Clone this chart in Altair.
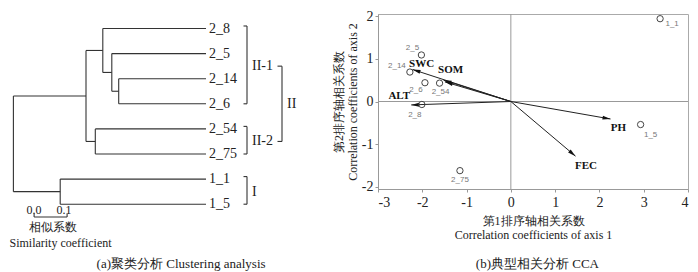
import math
import altair as alt
import pandas as pd

# ---------------- data ----------------
# (a) dendrogram
leaves = ["2_8", "2_5", "2_14", "2_6", "2_54", "2_75", "1_1", "1_5"]
merge_a = ["2_14", "2_5", "2_8", "2_54", "n3", "1_1", "n5"]
merge_b = ["2_6", "n1", "n2", "2_75", "n4", "1_5", "n6"]
merge_h = [0.291, 0.314, 0.344, 0.369, 0.400, 0.486, 0.642]

group_names = ["II-1", "II-2", "I"]
group_first = ["2_8", "2_54", "1_1"]
group_last = ["2_6", "2_75", "1_5"]
super_name = "II"
super_members = ["II-1", "II-2"]

scale_bar_start = 0.573
scale_bar_labels = ["0.0", "0.1"]
scale_title = ["相似系数", "Similarity coefficient"]
caption_a = "(a)聚类分析 Clustering analysis"

# (b) CCA biplot
sites = ["1_1", "2_5", "2_14", "2_6", "2_54", "2_8", "2_75", "1_5"]
site_x = [3.37, -2.02, -2.28, -1.94, -1.61, -2.01, -1.15, 2.93]
site_y = [1.94, 1.09, 0.69, 0.44, 0.43, -0.07, -1.62, -0.54]
env_names = ["SWC", "SOM", "", "ALT", "PH", "FEC"]
env_x = [-2.22, -1.52, -1.49, -2.25, 2.25, 1.46]
env_y = [0.75, 0.50, 0.46, -0.08, -0.41, -1.28]
x_ticks = [-3, -2, -1, 0, 1, 2, 3, 4]
y_ticks = [-2, -1, 0, 1, 2]
x_title = ["第1排序轴相关系数", "Correlation coefficients of axis 1"]
y_title = ["第2排序轴相关系数", "Correlation coefficients of axis 2"]
caption_b = "(b)典型相关分析 CCA"

# ---------------- layout / style ----------------
SERIF = "Liberation Serif"
LW, RW, H = 340, 310, 175
GAP = 29
PXU = 300.0          # px per unit of linkage distance
LEAF_PX = 197.0      # px where distance 0 sits
ROW0, ROW = 14.5, 25.1
LINE = "#333333"

xs_left = alt.Scale(domain=[LEAF_PX / PXU, (LEAF_PX - LW) / PXU], nice=False, zero=False)
ys_left = alt.Scale(domain=[-ROW0 / ROW, (H - ROW0) / ROW], reverse=True, nice=False, zero=False)

# dendrogram segments
pos = {n: float(i) for i, n in enumerate(leaves)}
hgt = {n: 0.0 for n in leaves}
segs = []
for i, (a, b, h) in enumerate(zip(merge_a, merge_b, merge_h)):
    segs.append(dict(x=h, x2=h, y=pos[a], y2=pos[b]))
    segs.append(dict(x=hgt[a], x2=h, y=pos[a], y2=pos[a]))
    segs.append(dict(x=hgt[b], x2=h, y=pos[b], y2=pos[b]))
    node = f"n{i + 1}"
    pos[node] = (pos[a] + pos[b]) / 2
    hgt[node] = h
df_seg = pd.DataFrame(segs)
df_leaf = pd.DataFrame(dict(x=[0.0] * len(leaves), y=[pos[n] for n in leaves], t=leaves))

# brackets
BR = (LEAF_PX - 238) / PXU
SBR = (LEAF_PX - 273) / PXU
br_rows, cl_rows = [], []
gmid = {}
for name, f, l in zip(group_names, group_first, group_last):
    y0, y1 = pos[f] - 0.1, pos[l]
    br_rows += [dict(x=BR, x2=BR, y=y0, y2=y1),
                dict(x=BR + 3.5 / PXU, x2=BR, y=y0, y2=y0),
                dict(x=BR + 3.5 / PXU, x2=BR, y=y1, y2=y1)]
    gmid[name] = (pos[f] + pos[l]) / 2
    cl_rows.append(dict(x=BR - 5 / PXU, y=gmid[name], t=name))
sy0, sy1 = gmid[super_members[0]], gmid[super_members[1]]
br_rows += [dict(x=SBR, x2=SBR, y=sy0, y2=sy1),
            dict(x=SBR + 4.5 / PXU, x2=SBR, y=sy0, y2=sy0),
            dict(x=SBR + 4.5 / PXU, x2=SBR, y=sy1, y2=sy1)]
cl_rows.append(dict(x=SBR - 5 / PXU, y=(sy0 + sy1) / 2, t=super_name))
df_br = pd.DataFrame(br_rows)
df_cl = pd.DataFrame(cl_rows)

# scale bar
bar_end = scale_bar_start - 0.11
df_bar = pd.DataFrame([
    dict(x=scale_bar_start, x2=bar_end, y=7.51, y2=7.51),
    dict(x=scale_bar_start, x2=scale_bar_start, y=7.37, y2=7.51),
    dict(x=bar_end, x2=bar_end, y=7.37, y2=7.51),
])
df_bar_lab = pd.DataFrame(dict(x=[scale_bar_start, scale_bar_start - 0.1], y=[7.23, 7.23], t=scale_bar_labels))
df_stitle = pd.DataFrame(dict(x=[0.51, 0.485], y=[7.91, 8.55], t=scale_title))
df_cap_a = pd.DataFrame(dict(x=[0.083], y=[9.38], t=[caption_a]))


def lx(field="x"):
    return alt.X(f"{field}:Q", scale=xs_left, axis=None)


def ly(field="y"):
    return alt.Y(f"{field}:Q", scale=ys_left, axis=None)


def rules(df):
    return alt.Chart(df).mark_rule(color=LINE, strokeWidth=1.1).encode(
        x=lx(), x2="x2:Q", y=ly(), y2="y2:Q")


def texts(df, size, align="center", dx=0, color="#222222"):
    return alt.Chart(df).mark_text(font=SERIF, fontSize=size, align=align, dx=dx,
                                   baseline="middle", color=color).encode(
        x=lx(), y=ly(), text="t:N")


left = alt.layer(
    rules(df_seg),
    texts(df_leaf, 14, align="left", dx=3),
    rules(df_br),
    texts(df_cl, 14, align="left"),
    rules(df_bar),
    texts(df_bar_lab, 12),
    texts(df_stitle, 12),
    texts(df_cap_a, 13),
).properties(width=LW, height=H, view=alt.ViewBackground(stroke="transparent"))

# ---------------- right panel ----------------
XD, YD = [-3, 4], [-2.05, 2.05]
SX = RW / (XD[1] - XD[0])
SY = H / (YD[1] - YD[0])
xs_r = alt.Scale(domain=XD, nice=False, zero=False)
ys_r = alt.Scale(domain=YD, nice=False, zero=False)

lab_expr = "datum.value < 0 ? '-' + abs(datum.value) : '' + datum.value"
ax_common = dict(grid=False, domainColor="#999999", tickColor="#999999", tickSize=3,
                 labelFont="Liberation Serif", labelFontSize=14, labelColor="#222222",
                 titleFont=SERIF, titleFontSize=12, titleFontWeight="normal",
                 titleColor="#222222", titleLineHeight=14, labelExpr=lab_expr)
x_axis = alt.Axis(values=x_ticks, title=x_title, labelPadding=3, titlePadding=6, **ax_common)
y_axis = alt.Axis(values=y_ticks, title=y_title, labelPadding=2, titlePadding=2, **ax_common)


def rx(field):
    return alt.X(f"{field}:Q", scale=xs_r, axis=x_axis)


def ry(field):
    return alt.Y(f"{field}:Q", scale=ys_r, axis=y_axis)


df_zero = pd.DataFrame(dict(v=[0.0]))
zero_v = alt.Chart(df_zero).mark_rule(color="#999999", strokeWidth=1).encode(
    x=rx("v"), y=alt.value(0), y2=alt.value(H))
zero_h = alt.Chart(df_zero).mark_rule(color="#999999", strokeWidth=1).encode(
    y=ry("v"), x=alt.value(0), x2=alt.value(RW))

df_env = pd.DataFrame(dict(name=env_names, ex=env_x, ey=env_y))
df_env["x0"] = 0.0
df_env["y0"] = 0.0
df_env["ang"] = [(math.degrees(math.atan2(a * SX, b * SY)) + 360) % 360 for a, b in zip(env_x, env_y)]
# label centre offsets (px) relative to the arrow tip
env_nudge = {"SWC": (9, -5), "SOM": (7, -10), "": (0, 0), "ALT": (-12, -9), "PH": (8, 9), "FEC": (10.5, 10)}
df_env["lx"] = [x + env_nudge[n][0] / SX for n, x in zip(env_names, env_x)]
df_env["ly"] = [y - env_nudge[n][1] / SY for n, y in zip(env_names, env_y)]

arrows = alt.Chart(df_env).mark_rule(color="#222222", strokeWidth=1).encode(
    x=rx("x0"), x2="ex:Q", y=ry("y0"), y2="ey:Q")
heads = alt.Chart(df_env).mark_point(shape="M0,0L1,4L-1,4Z", filled=True, color="#111111",
                                     size=16, opacity=1).encode(
    x=rx("ex"), y=ry("ey"), angle=alt.Angle("ang:Q", scale=None))
env_lab = alt.Chart(df_env).mark_text(font="Liberation Serif", fontSize=11, fontWeight="bold",
                                      color="#111111", baseline="middle").encode(
    x=rx("lx"), y=ry("ly"), text="name:N")

df_site = pd.DataFrame(dict(name=sites, sx=site_x, sy=site_y))
site_nudge = {"1_1": (12, 5), "2_5": (-9, -7), "2_14": (-13, -6), "2_6": (-9, 7),
              "2_54": (1, 9), "2_8": (-7, 11), "2_75": (0, 9), "1_5": (10, 10)}
df_site["lx"] = [x + site_nudge[n][0] / SX for n, x in zip(sites, site_x)]
df_site["ly"] = [y - site_nudge[n][1] / SY for n, y in zip(sites, site_y)]
pts = alt.Chart(df_site).mark_point(shape="circle", filled=False, size=40, color="#444444",
                                    strokeWidth=1, opacity=1).encode(x=rx("sx"), y=ry("sy"))
pt_lab = alt.Chart(df_site).mark_text(font="Liberation Sans", fontSize=8, color="#777777",
                                      baseline="middle").encode(
    x=rx("lx"), y=ry("ly"), text="name:N")

df_cap_b = pd.DataFrame(dict(x=[0.6], y=[YD[1] - 250 / SY], t=[caption_b]))
cap_b = alt.Chart(df_cap_b).mark_text(font=SERIF, fontSize=13, color="#222222",
                                      baseline="middle").encode(
    x=rx("x"), y=ry("y"), text="t:N")

right = alt.layer(zero_v, zero_h, arrows, heads, env_lab, pts, pt_lab, cap_b).properties(
    width=RW, height=H, view=alt.ViewBackground(stroke="#aaaaaa", strokeWidth=1))

chart = alt.hconcat(left, right, spacing=GAP, bounds="flush").properties(
    padding={"left": 0, "top": 0, "right": 0, "bottom": 0}
).configure_view(stroke="#aaaaaa")

chart.save("out.html", embed_options={"renderer": "svg", "actions": False})
